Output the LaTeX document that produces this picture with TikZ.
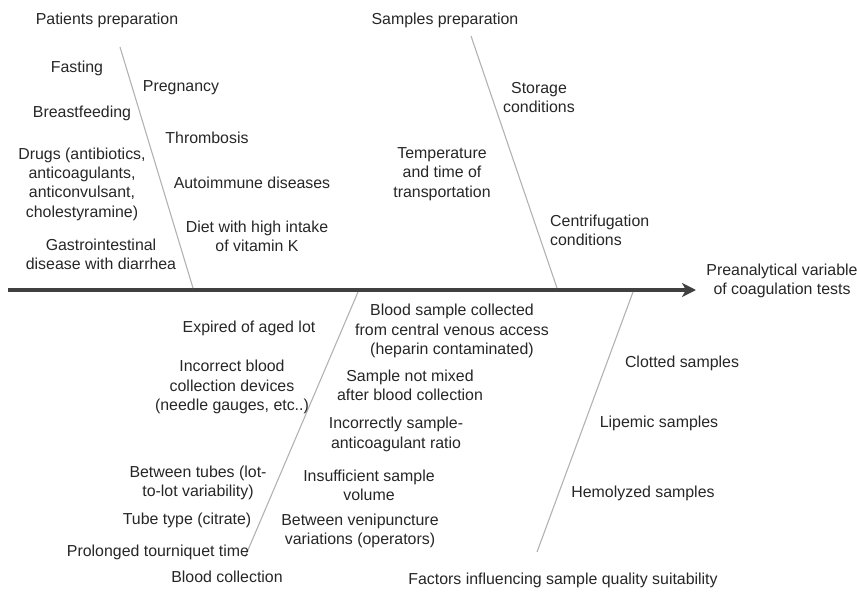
\documentclass[tikz,border=0pt]{standalone}
\usepackage{fontspec}
\setmainfont{Liberation Sans}
\usetikzlibrary{arrows.meta}

\tikzset{
  cause/.style={font=\fontsize{15.9}{19.3}\selectfont, text=black!85, align=center, inner sep=0pt},
  bone/.style={black!30, line width=1.1pt},
}

\begin{document}
\begin{tikzpicture}[x=1pt, y=-1pt]
\useasboundingbox (0,0) rectangle (857,594);

% spine
\coordinate (tail) at (8,290);
\coordinate (head) at (696,290);
\draw[black!75, line width=3.2pt, -{Stealth[length=14pt, width=14pt, inset=4pt]}] (tail) -- (head);
\node[cause] (effect) at (782,281) {Preanalytical variable\\of coagulation tests};

% bones
\coordinate (pattop) at (120,47);   \coordinate (patfoot) at (193,288);
\coordinate (samtop) at (471,36);   \coordinate (samfoot) at (557,288);
\coordinate (bldtop) at (358,292);  \coordinate (bldfoot) at (245,557);
\coordinate (factop) at (633,292);  \coordinate (facfoot) at (537,552);
\draw[bone] (pattop) -- (patfoot);
\draw[bone] (samtop) -- (samfoot);
\draw[bone] (bldtop) -- (bldfoot);
\draw[bone] (factop) -- (facfoot);

% heads
\node[cause] (pat) at (107,20) {Patients preparation};
\node[cause] (sam) at (445,20) {Samples preparation};
\node[cause] (bld) at (227,577) {Blood collection};
\node[cause] (fac) at (563,580) {Factors influencing sample quality suitability};

% patients preparation
\node[cause] (fast) at (77,68) {Fasting};
\node[cause] (preg) at (181,88) {Pregnancy};
\node[cause] (breast) at (82,113) {Breastfeeding};
\node[cause] (throm) at (207,138) {Thrombosis};
\node[cause] (drugs) at (82,184) {Drugs (antibiotics,\\anticoagulants,\\anticonvulsant,\\cholestyramine)};
\node[cause] (autoimm) at (252,183) {Autoimmune diseases};
\node[cause] (diet) at (257,236.5) {Diet with high intake\\of vitamin K};
\node[cause] (gastro) at (101,254) {Gastrointestinal\\disease with diarrhea};

% samples preparation
\node[cause] (storage) at (539,97.5) {Storage\\conditions};
\node[cause] (temp) at (442,174) {Temperature\\and time of\\transportation};
\node[cause, align=left, anchor=west] (centri) at (550,230) {Centrifugation\\conditions};

% blood collection
\node[cause] (expired) at (249,328) {Expired of aged lot};
\node[cause] (devices) at (232,387) {Incorrect blood\\collection devices\\(needle gauges, etc..)};
\node[cause] (lot) at (198,483) {Between tubes (lot-\\to-lot variability)};
\node[cause] (tube) at (187,520) {Tube type (citrate)};
\node[cause] (tourn) at (158,552) {Prolonged tourniquet time};
\node[cause] (central) at (452,331) {Blood sample collected\\from central venous access\\(heparin contaminated)};
\node[cause] (mixed) at (410,385.5) {Sample not mixed\\after blood collection};
\node[cause] (ratio) at (396,434.5) {Incorrectly sample-\\anticoagulant ratio};
\node[cause] (volume) at (369,485) {Insufficient sample\\volume};
\node[cause] (venip) at (360,531) {Between venipuncture\\variations (operators)};

% sample quality
\node[cause] (clot) at (682,363) {Clotted samples};
\node[cause] (lipem) at (659,423) {Lipemic samples};
\node[cause] (hemol) at (643,493) {Hemolyzed samples};
\end{tikzpicture}
\end{document}
